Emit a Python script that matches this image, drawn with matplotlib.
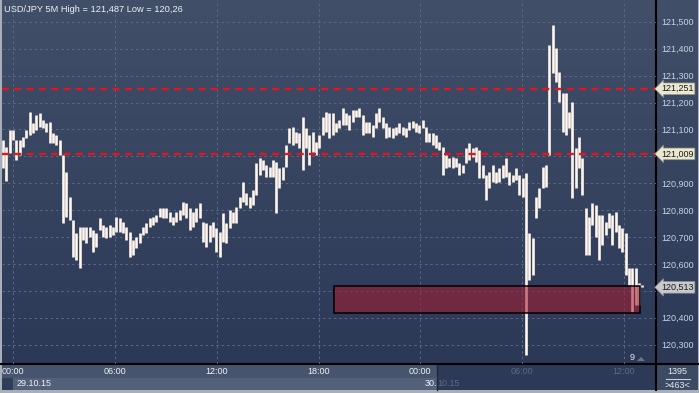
import matplotlib
matplotlib.use("Agg")
import matplotlib.pyplot as plt
import matplotlib.dates as mdates
import matplotlib.transforms as mtrans
from matplotlib.patches import Rectangle, Polygon
import numpy as np
import pandas as pd

plt.rcParams["font.family"] = ["Liberation Sans", "DejaVu Sans"]

# chart data (~12 min per bar)
title = "USD/JPY 5M High = 121,487 Low = 120,26"
bar_start = "2015-10-28 23:25"
bar_end = "2015-10-30 13:05"
highs = [
    121.061, 121.035, 121.098, 121.098, 121.061, 121.061, 121.072, 121.098, 121.165, 121.124,
    121.154, 121.161, 121.135, 121.124, 121.128, 121.087, 121.079, 121.061, 121.005, 120.942,
    120.849, 120.763, 120.715, 120.737, 120.737, 120.737, 120.737, 120.726, 120.715, 120.771,
    120.745, 120.737, 120.745, 120.737, 120.774, 120.771, 120.756, 120.737, 120.719, 120.689,
    120.700, 120.715, 120.737, 120.752, 120.771, 120.774, 120.782, 120.808, 120.808, 120.808,
    120.793, 120.774, 120.793, 120.800, 120.830, 120.826, 120.808, 120.793, 120.808, 120.826,
    120.756, 120.752, 120.745, 120.756, 120.734, 120.719, 120.789, 120.752, 120.800, 120.793,
    120.812, 120.849, 120.904, 120.864, 120.849, 120.875, 120.975, 120.994, 120.986, 120.968,
    120.960, 120.986, 120.979, 120.957, 120.960, 121.042, 121.105, 121.109, 121.090, 121.087,
    121.146, 121.105, 121.079, 121.090, 121.053, 121.079, 121.146, 121.165, 121.161, 121.161,
    121.124, 121.135, 121.180, 121.161, 121.154, 121.172, 121.172, 121.180, 121.154, 121.128,
    121.128, 121.116, 121.161, 121.180, 121.146, 121.124, 121.109, 121.105, 121.109, 121.124,
    121.109, 121.105, 121.128, 121.131, 121.124, 121.116, 121.135, 121.109, 121.087, 121.087,
    121.079, 121.053, 121.035, 121.005, 120.994, 120.997, 120.994, 120.975, 120.968, 121.031,
    121.050, 121.031, 121.035, 121.023, 120.968, 120.931, 120.942, 120.968, 120.942, 120.957,
    120.968, 120.994, 120.942, 120.931, 120.957, 120.931, 120.919, 120.938, 120.715, 120.696,
    120.849, 120.882, 120.960, 120.968, 121.414, 121.487, 121.403, 121.313, 121.235, 121.235,
    121.165, 121.202, 121.031, 121.072, 120.994, 120.808, 120.774, 120.826, 120.819, 120.782,
    120.782, 120.756, 120.789, 120.782, 120.793, 120.745, 120.734, 120.715, 120.585, 120.585,
    120.585, 120.529, 120.522,
]
lows = [
    120.957, 120.908, 121.012, 121.061, 120.986, 121.005, 121.035, 121.068, 121.079, 121.087,
    121.098, 121.109, 121.105, 121.090, 121.050, 121.050, 121.042, 121.005, 120.752, 120.774,
    120.763, 120.626, 120.615, 120.585, 120.689, 120.678, 120.700, 120.644, 120.663, 120.726,
    120.700, 120.696, 120.700, 120.708, 120.719, 120.719, 120.715, 120.689, 120.626, 120.633,
    120.659, 120.678, 120.708, 120.715, 120.737, 120.745, 120.756, 120.774, 120.771, 120.771,
    120.756, 120.745, 120.756, 120.763, 120.782, 120.771, 120.726, 120.737, 120.756, 120.771,
    120.681, 120.663, 120.681, 120.700, 120.644, 120.626, 120.681, 120.678, 120.734, 120.752,
    120.752, 120.808, 120.830, 120.819, 120.808, 120.819, 120.856, 120.931, 120.949, 120.923,
    120.923, 120.923, 120.789, 120.882, 120.912, 120.960, 121.050, 121.042, 121.050, 121.031,
    120.949, 121.031, 120.968, 121.016, 121.005, 121.031, 121.079, 121.090, 121.068, 121.079,
    121.090, 121.105, 121.116, 121.116, 121.098, 121.128, 121.146, 121.146, 121.079, 121.087,
    121.087, 121.072, 121.105, 121.128, 121.105, 121.068, 121.072, 121.068, 121.079, 121.087,
    121.079, 121.072, 121.098, 121.105, 121.090, 121.087, 121.105, 121.053, 121.053, 121.042,
    121.031, 121.023, 120.931, 120.957, 120.960, 120.957, 120.960, 120.931, 120.938, 120.975,
    120.986, 120.997, 120.979, 120.919, 120.919, 120.838, 120.882, 120.904, 120.901, 120.904,
    120.919, 120.923, 120.893, 120.904, 120.912, 120.856, 120.849, 120.261, 120.540, 120.559,
    120.771, 120.808, 120.882, 120.886, 121.005, 121.310, 121.276, 121.202, 121.090, 121.079,
    121.105, 120.845, 120.882, 120.957, 120.856, 120.633, 120.633, 120.745, 120.700, 120.615,
    120.670, 120.708, 120.734, 120.670, 120.719, 120.659, 120.644, 120.559, 120.522, 120.421,
    120.447, 120.447, 120.513,
]
levels = [121.251, 121.009]
last_price = 120.513
zone_start = "2015-10-29 18:55"
zone_end = "2015-10-30 12:57"
zone_high = 120.518
zone_low = 120.418
price_ticks = [120.3, 120.4, 120.5, 120.6, 120.7, 120.8, 120.9,
               121.0, 121.1, 121.2, 121.3, 121.4, 121.5]
time_ticks = ["2015-10-29 00:00", "2015-10-29 06:00", "2015-10-29 12:00",
              "2015-10-29 18:00", "2015-10-30 00:00", "2015-10-30 06:00",
              "2015-10-30 12:00"]
date_labels = ["29.10.15", "30.10.15"]
bar_count = "1395"
visible_count = ">463<"

W, H = 699, 393
fig = plt.figure(figsize=(W / 100, H / 100), dpi=100)

# pixel-space background layer
bg = fig.add_axes([0, 0, 1, 1], zorder=0)
bg.set_xlim(0, W)
bg.set_ylim(H, 0)
bg.axis("off")
top = np.array([65, 79, 105]) / 255
bot = np.array([43, 57, 87]) / 255
grad = np.linspace(0, 1, 256)[:, None, None] * (bot - top) + top
bg.imshow(grad, extent=(0, W, 364, 0), aspect="auto", interpolation="bilinear")
# bottom axis band
bg.add_patch(Rectangle((0, 364), 437, 14, fc="#46546d", ec="none"))
bg.add_patch(Rectangle((437, 364), 219, 26, fc="#2c3a57", ec="none"))
bg.add_patch(Rectangle((0, 378), 13, 12, fc="#2f3d59", ec="none"))
bg.add_patch(Rectangle((13, 378), 424, 12, fc="#536079", ec="none"))
bg.add_patch(Rectangle((656, 364), 43, 26, fc="#3c4a64", ec="none"))
bg.plot([437, 437], [364, 390], color="#20283a", lw=1)
bg.plot([0, W], [364, 364], color="black", lw=1.5)
bg.plot([656, 656], [0, 390], color="black", lw=1.5)
bg.plot([666, 690], [378.5, 378.5], color="#c8d0dc", lw=0.8)
bg.text(677, 372, bar_count, color="#e8ecf2", fontsize=6.5, ha="center", va="center")
bg.text(677, 385, visible_count, color="#e8ecf2", fontsize=6.5, ha="center", va="center")
bg.add_patch(Rectangle((0, 390), W, 3, fc="#a7afba", ec="none"))
bg.add_patch(Rectangle((0, 0), 1.5, H, fc="#a7afba", ec="none"))
bg.add_patch(Rectangle((W - 1.5, 0), 1.5, H, fc="#a7afba", ec="none"))
bg.text(632, 358, "9", color="#e8ecf2", fontsize=6.5, ha="center", va="center")
bg.add_patch(Polygon([[637, 361], [645, 361], [641, 357]], fc="#6a7690", ec="none"))

# price chart
ax = fig.add_axes([2 / W, 29 / H, 654 / W, 364 / H], zorder=1)
ax.patch.set_alpha(0)
for s in ax.spines.values():
    s.set_visible(False)

times = pd.date_range(bar_start, bar_end, periods=len(highs))
ax.vlines(mdates.date2num(times), lows, highs, colors="#fff6ee", linewidth=1.9, zorder=3)

ax.set_xlim(mdates.date2num(pd.Timestamp("2015-10-28 23:21")),
            mdates.date2num(pd.Timestamp("2015-10-30 13:53")))
ax.set_ylim(120.228, 121.581)

# price labels hidden behind the level/last-price boxes are left blank
boxed = levels + [last_price]
tick_x = mdates.date2num(pd.to_datetime(time_ticks))
ax.set_xticks(tick_x, [pd.Timestamp(t).strftime("%H:%M") for t in time_ticks])
ax.set_yticks(price_ticks, ["" if min(abs(p - b) for b in boxed) < 0.02
                            else f"{p:.3f}".replace(".", ",") for p in price_ticks])
ax.yaxis.tick_right()
ax.tick_params(axis="both", length=0, labelsize=6.5)
ax.tick_params(axis="y", pad=4, labelcolor="#c9d2e3")
ax.tick_params(axis="x", pad=2)
for lbl, t in zip(ax.get_xticklabels(), time_ticks):
    lbl.set_color("#f0f2f6" if pd.Timestamp(t) <= pd.Timestamp("2015-10-30") else "#5d6b86")

ax.grid(True, color="#5b6985", linestyle=(0, (2.5, 3)), linewidth=0.7, zorder=1)
ax.set_axisbelow(True)

for lvl in levels:
    ax.axhline(lvl, color="#e2161c", linewidth=1.7, linestyle=(0, (3, 2.2)), zorder=4)

zx0 = mdates.date2num(pd.Timestamp(zone_start))
zx1 = mdates.date2num(pd.Timestamp(zone_end))
ax.add_patch(Rectangle((zx0, zone_low), zx1 - zx0, zone_high - zone_low,
                       fc=(0.64, 0.11, 0.18, 0.57), ec="black", lw=1.1, zorder=5))

# level labels on the price scale
lab_tr = mtrans.offset_copy(mtrans.blended_transform_factory(ax.transAxes, ax.transData),
                            fig=fig, x=5, y=0, units="dots")
for lvl in levels:
    ax.text(1.0, lvl, f"{lvl:.3f}".replace(".", ","), transform=lab_tr, fontsize=6.5,
            color="#1a1a1a", ha="left", va="center", clip_on=False, zorder=6,
            bbox=dict(boxstyle="larrow,pad=0.15", fc="#ebe8d2", ec="#8e8b78", lw=0.5))
ax.text(1.0, last_price, f"{last_price:.3f}".replace(".", ","), transform=lab_tr,
        fontsize=6.5, color="#1a1a1a", ha="left", va="center", clip_on=False, zorder=6,
        bbox=dict(boxstyle="larrow,pad=0.15", fc="#c9cacd", ec="#8a8c90", lw=0.5))

# date row ("30." of the second date is bright, the rest dim)
date_tr = mtrans.offset_copy(ax.get_xaxis_transform(), fig=fig, x=4, y=-20, units="dots")
ax.text(tick_x[0], 0, date_labels[0], transform=date_tr, fontsize=6.5, color="#f0f2f6",
        ha="left", va="center", clip_on=False)
d2 = ax.text(tick_x[4], 0, date_labels[1][:3], transform=date_tr, fontsize=6.5,
             color="#f0f2f6", ha="left", va="center", clip_on=False)
ax.annotate(date_labels[1][3:], xy=(1, 0.5), xycoords=d2, fontsize=6.5, color="#5d6b86",
            ha="left", va="center", annotation_clip=False)

fig.text(4 / W, 1 - 9 / H, title, color="#eef1f6", fontsize=6.7, ha="left", va="center")

fig.savefig("out.png", dpi=100)
